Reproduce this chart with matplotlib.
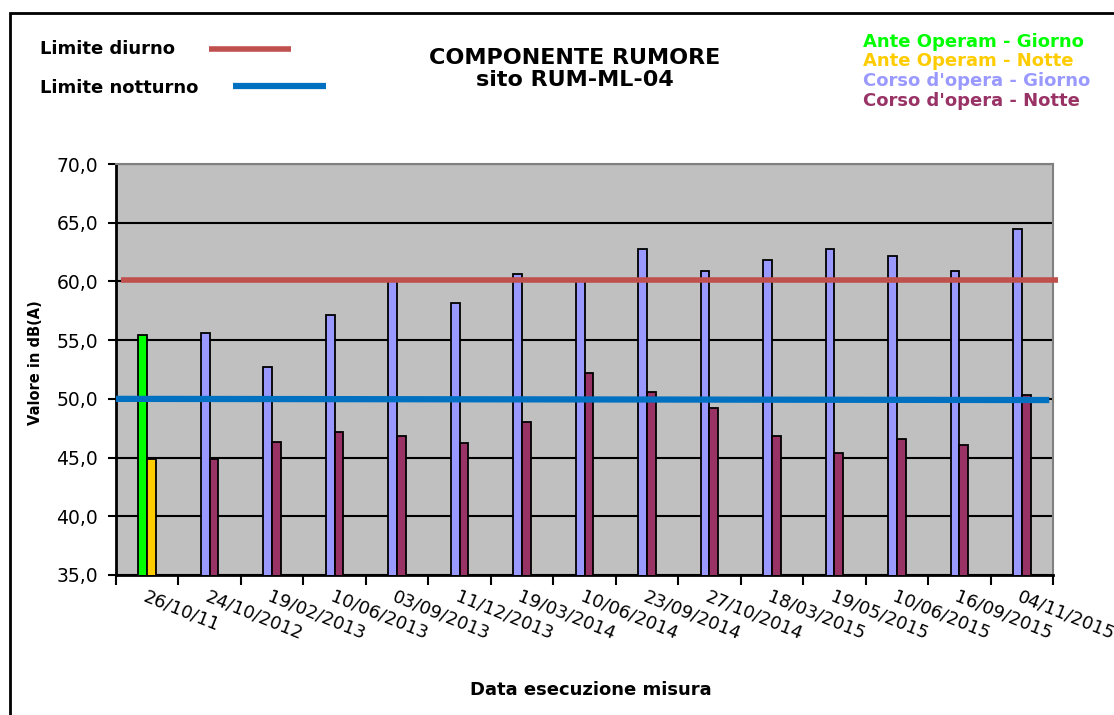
import numpy as np
import matplotlib
matplotlib.use("Agg")
import matplotlib.pyplot as plt
from matplotlib.lines import Line2D
from matplotlib.patches import Rectangle
from matplotlib.ticker import FuncFormatter

plt.rcParams['font.family'] = ['DejaVu Sans']

# Dates of the measurements
date_misure = ['26/10/11', '24/10/2012', '19/02/2013', '10/06/2013', '03/09/2013',
               '11/12/2013', '19/03/2014', '10/06/2014', '23/09/2014', '27/10/2014',
               '18/03/2015', '19/05/2015', '10/06/2015', '16/09/2015', '04/11/2015']

# Ante operam (only the first date)
ante_giorno = [55.4]
ante_notte = [44.9]

# Corso d'opera (from the second date on)
corso_giorno = [55.6, 52.7, 57.1, 60.0, 58.2, 60.6, 60.1, 62.8, 60.9, 61.8, 62.8, 62.2, 60.9, 64.5]
corso_notte = [44.9, 46.3, 47.2, 46.8, 46.2, 48.0, 52.2, 50.6, 49.2, 46.8, 45.4, 46.6, 46.1, 50.3]

# Limits
limite_diurno = 60.1
limite_notturno = 50.0

# Colours
c_ante_g = '#00FF00'
c_ante_n = '#FFCC00'
c_corso_g = '#9999FF'
c_corso_n = '#993366'
c_diurno = '#C0504D'
c_notturno = '#0070C0'

W, H = 1114, 715
fig = plt.figure(figsize=(W / 100, H / 100), dpi=100)
ax = fig.add_axes([116 / W, 1 - 575 / H, (1053 - 116) / W, (575 - 164) / H])

n = len(date_misure)
x = np.arange(n)
bw = 0.14

# Bars
ax.bar(x[:1] - bw / 2, ante_giorno, bw, color=c_ante_g, edgecolor='black', linewidth=1.3, zorder=3)
ax.bar(x[:1] + bw / 2, ante_notte, bw, color=c_ante_n, edgecolor='black', linewidth=1.3, zorder=3)
ax.bar(x[1:] - bw / 2, corso_giorno, bw, color=c_corso_g, edgecolor='black', linewidth=1.3, zorder=3)
ax.bar(x[1:] + bw / 2, corso_notte, bw, color=c_corso_n, edgecolor='black', linewidth=1.3, zorder=3)

# Limit lines
ax.plot([-0.42, n - 0.42], [limite_diurno, limite_diurno], color=c_diurno, lw=4, zorder=4,
        clip_on=False, solid_capstyle='butt')
ax.plot([-0.5, n - 0.56], [limite_notturno, limite_notturno - 0.1], color=c_notturno, lw=4.5,
        zorder=4, clip_on=False, solid_capstyle='butt')

ax.set_xlim(-0.5, n - 0.5)
ax.set_ylim(35, 70)
ax.set_facecolor('#C0C0C0')

# y axis
ax.set_yticks(np.arange(35, 71, 5))
ax.yaxis.set_major_formatter(FuncFormatter(lambda v, p: f"{v:.1f}".replace('.', ',')))
ax.tick_params(axis='y', direction='out', length=6, width=1.5, labelsize=13.5, pad=7)
ax.grid(axis='y', color='black', linewidth=1.5, zorder=1)
ax.set_axisbelow(True)

# x axis: ticks at boundaries, labels at centres
ax.set_xticks(np.arange(-0.5, n, 1.0))
ax.set_xticklabels([])
ax.set_xticks(x, minor=True)
ax.set_xticklabels(date_misure, minor=True)
ax.tick_params(axis='x', which='major', direction='out', length=7, width=1.5)
ax.tick_params(axis='x', which='minor', length=0, labelsize=13, pad=9)
plt.setp(ax.get_xticklabels(minor=True), rotation=-22, ha='left', va='top', rotation_mode='anchor')

for s in ['left', 'bottom']:
    ax.spines[s].set_linewidth(2)
    ax.spines[s].set_color('black')
for s in ['top', 'right']:
    ax.spines[s].set_linewidth(1.5)
    ax.spines[s].set_color('#808080')

# Axis titles
fig.text(35 / W, 1 - 363 / H, 'Valore in dB(A)', rotation=90, ha='center', va='center',
         fontsize=10.5, fontweight='bold')
fig.text(591 / W, 1 - 690 / H, 'Data esecuzione misura', ha='center', va='center',
         fontsize=13, fontweight='bold')

# Title
fig.text(575 / W, 1 - 69 / H, 'COMPONENTE RUMORE\nsito RUM-ML-04', ha='center', va='center',
         fontsize=16, fontweight='bold', linespacing=1.1)

# Limit legend (top left)
fig.text(40 / W, 1 - 49 / H, 'Limite diurno', ha='left', va='center', fontsize=13, fontweight='bold')
fig.text(40 / W, 1 - 88 / H, 'Limite notturno', ha='left', va='center', fontsize=13, fontweight='bold')
fig.add_artist(Line2D([209 / W, 291 / W], [1 - 49 / H, 1 - 49 / H], color=c_diurno, lw=4,
                      solid_capstyle='butt'))
fig.add_artist(Line2D([233 / W, 326 / W], [1 - 86 / H, 1 - 86 / H], color=c_notturno, lw=4.5,
                      solid_capstyle='butt'))

# Series legend (top right)
voci = ['Ante Operam - Giorno', 'Ante Operam - Notte', "Corso d'opera - Giorno", "Corso d'opera - Notte"]
colori = [c_ante_g, c_ante_n, c_corso_g, c_corso_n]
for i, (t, c) in enumerate(zip(voci, colori)):
    fig.text(863 / W, 1 - (42 + 19.5 * i) / H, t, ha='left', va='center', color=c,
             fontsize=13, fontweight='bold')

# Chart border
fig.add_artist(Rectangle((10 / W, -0.1), 1.2, 1 - 13 / H + 0.1, transform=fig.transFigure,
                         fill=False, edgecolor='black', linewidth=2))

fig.savefig('out.png', dpi=100)
